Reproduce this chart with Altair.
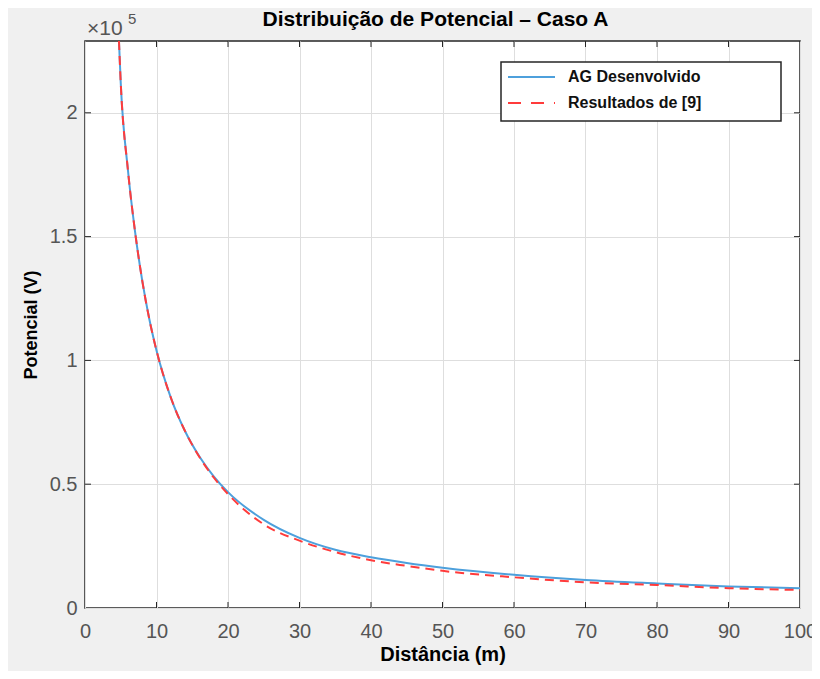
import altair as alt
import pandas as pd

# Values
dist_ag = [4.75, 5, 6, 7, 8, 9, 10, 12, 14, 16, 18, 20, 25, 30, 35, 40, 45, 50, 60, 70, 80, 90, 100]
pot_ag = [229000, 212000, 177000, 152000, 132300, 116600, 104000, 85000, 71400, 61200, 53200,
          46800, 35600, 28300, 23500, 20500, 18200, 16300, 13400, 11300, 9900, 8700, 8000]
dist_ref = [4.75, 5, 6, 7, 8, 9, 10, 12, 14, 16, 18, 20, 25, 30, 35, 40, 45, 50, 60, 70, 80, 90, 100]
pot_ref = [229000, 212000, 177000, 152000, 132300, 116600, 104000, 85000, 71400, 61000, 52700,
           46000, 33800, 27200, 22600, 19300, 17000, 15000, 12400, 10400, 9300, 8000, 7300]
series_names = ["AG Desenvolvido", "Resultados de [9]"]
chart_title = "Distribuição de Potencial – Caso A"
x_ticks = [0, 10, 20, 30, 40, 50, 60, 70, 80, 90, 100]
y_ticks = [0, 50000, 100000, 150000, 200000]

W, H = 715, 567
BLUE = "#4da0dc"
RED = "#ff3b3b"
LABEL_FONT = "Liberation Sans, Arial"
BOLD_FONT = "Liberation Sans, Arial"
LABEL_COL = "#555555"

df = pd.concat([
    pd.DataFrame({"dist": dist_ag, "pot": pot_ag, "serie": series_names[0]}),
    pd.DataFrame({"dist": dist_ref, "pot": pot_ref, "serie": series_names[1]}),
])

xs = alt.Scale(domain=[0, 100], nice=False)
ys = alt.Scale(domain=[0, 229000], nice=False)

x_axis = alt.Axis(values=x_ticks, title="Distância (m)", grid=True, gridColor="#dedede",
                  domain=False, ticks=False, labelPadding=13, labelFontSize=20,
                  labelFont=LABEL_FONT, labelColor=LABEL_COL, titleFont=BOLD_FONT,
                  titleFontSize=20, titleFontWeight="bold", titleColor="#000000",
                  titlePadding=3, labelFlush=False)
y_axis = alt.Axis(values=y_ticks, title="Potencial (V)", grid=True, gridColor="#dedede",
                  domain=False, ticks=False, labelPadding=8, labelFontSize=20,
                  labelFont=LABEL_FONT, labelColor=LABEL_COL, titleFont=BOLD_FONT,
                  titleFontSize=18, titleFontWeight="bold", titleColor="#000000",
                  titlePadding=9, labelExpr="datum.value / 100000", labelFlush=False)

base = alt.Chart(df)

blue = base.transform_filter(alt.datum.serie == series_names[0]).mark_line(
    color=BLUE, strokeWidth=2, interpolate="monotone", clip=True
).encode(x=alt.X("dist:Q", scale=xs, axis=x_axis), y=alt.Y("pot:Q", scale=ys, axis=y_axis))

red = base.transform_filter(alt.datum.serie == series_names[1]).mark_line(
    color=RED, strokeWidth=2, strokeDash=[9, 6], interpolate="monotone", clip=True
).encode(x=alt.X("dist:Q", scale=xs), y=alt.Y("pot:Q", scale=ys))

# inward tick marks (MATLAB style)
xt = pd.DataFrame({"t": x_ticks[1:-1]})
yt = pd.DataFrame({"t": y_ticks[1:]})
tick_col = "#262626"
xb = alt.Chart(xt).mark_rule(color=tick_col, strokeWidth=1).encode(
    x=alt.X("t:Q", scale=xs), y=alt.value(H), y2=alt.value(H - 6))
xtp = alt.Chart(xt).mark_rule(color=tick_col, strokeWidth=1).encode(
    x=alt.X("t:Q", scale=xs), y=alt.value(0), y2=alt.value(6))
yl = alt.Chart(yt).mark_rule(color=tick_col, strokeWidth=1).encode(
    y=alt.Y("t:Q", scale=ys), x=alt.value(0), x2=alt.value(6))
yr = alt.Chart(yt).mark_rule(color=tick_col, strokeWidth=1).encode(
    y=alt.Y("t:Q", scale=ys), x=alt.value(W), x2=alt.value(W - 6))

one = pd.DataFrame({"a": [0]})

# chart title as text
title_txt = alt.Chart(one).mark_text(text=chart_title, fontSize=21, fontWeight="bold",
                                     font=BOLD_FONT, color="#000000", align="center",
                                     baseline="middle").encode(
    x=alt.value(W / 2 - 7), y=alt.value(-21))

# exponent label
exp_base = alt.Chart(one).mark_text(text="×10", fontSize=21, font=LABEL_FONT,
                                    color=LABEL_COL, align="left", baseline="middle").encode(
    x=alt.value(2), y=alt.value(-12))
exp_sup = alt.Chart(one).mark_text(text="5", fontSize=15, font=LABEL_FONT,
                                   color=LABEL_COL, align="left", baseline="middle").encode(
    x=alt.value(43), y=alt.value(-22))

# legend box
leg_box = alt.Chart(one).mark_rect(fill="white", stroke="#262626", strokeWidth=1.5).encode(
    x=alt.value(416), x2=alt.value(696), y=alt.value(21), y2=alt.value(80))
leg_blue = alt.Chart(one).mark_rule(color=BLUE, strokeWidth=2).encode(
    x=alt.value(423), x2=alt.value(470), y=alt.value(36))
leg_red = alt.Chart(one).mark_rule(color=RED, strokeWidth=2, strokeDash=[13, 10]).encode(
    x=alt.value(423), x2=alt.value(470), y=alt.value(62))
leg_t1 = alt.Chart(one).mark_text(text=series_names[0], fontSize=16, fontWeight="bold",
                                  font=BOLD_FONT, align="left", baseline="middle", color="#111111").encode(
    x=alt.value(483), y=alt.value(36))
leg_t2 = alt.Chart(one).mark_text(text=series_names[1], fontSize=16, fontWeight="bold",
                                  font=BOLD_FONT, align="left", baseline="middle", color="#111111").encode(
    x=alt.value(483), y=alt.value(62))

chart = alt.layer(
    blue, red, xb, xtp, yl, yr, title_txt, exp_base, exp_sup,
    leg_box, leg_blue, leg_red, leg_t1, leg_t2
).properties(
    width=W, height=H,
    autosize=alt.AutoSizeParams(type="none"),
    padding={"left": 77, "top": 33, "right": 12, "bottom": 63},
).configure(background="#f0f0f0").configure_view(
    fill="white", stroke="#262626", strokeWidth=1.5
)

chart.save("out.html", embed_options={"renderer": "svg", "actions": False})
